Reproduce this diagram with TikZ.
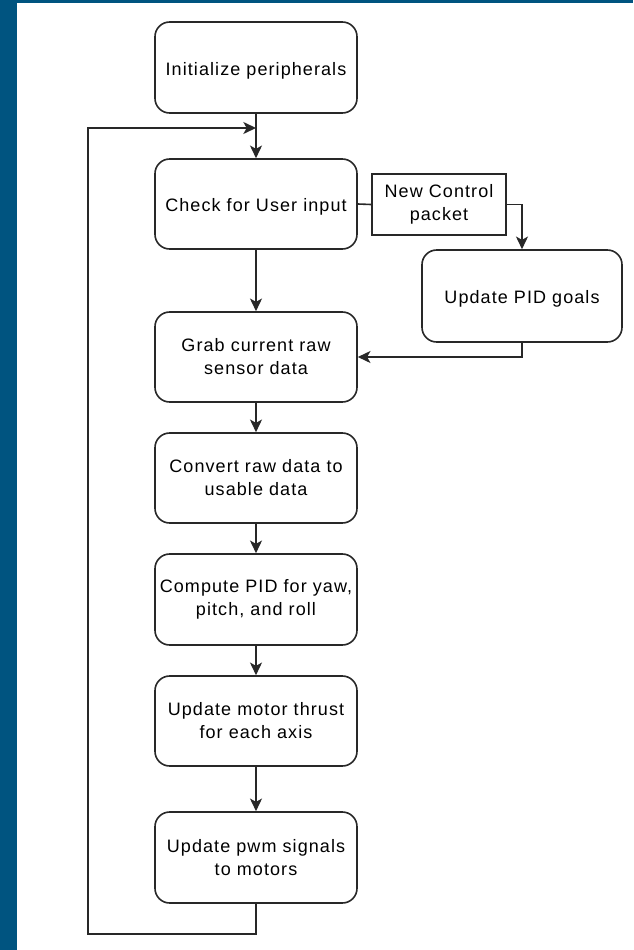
\documentclass[tikz,border=0pt]{standalone}
\usepackage{fontspec}
\setmainfont{Liberation Sans}[LetterSpace=6]
\usetikzlibrary{arrows.meta}
\definecolor{frameblue}{RGB}{0,84,128}
\definecolor{linegray}{RGB}{40,40,40}
% single-line labels sit a little lower than the geometric centre
\newcommand{\oneline}[1]{\raisebox{-2.25pt}[\height][\depth]{#1}}
\tikzset{
  stepbox/.style={draw=linegray, line width=1.2pt, rounded corners=11pt, fill=white,
    minimum width=151.5pt, minimum height=67.5pt, align=center, inner sep=2pt,
    font=\fontsize{13.5pt}{17.25pt}\selectfont},
  eventbox/.style={draw=linegray, line width=1.2pt, fill=white,
    minimum width=100.5pt, minimum height=45.75pt, align=center, inner sep=2pt,
    font=\fontsize{13.5pt}{17.25pt}\selectfont},
  flow/.style={draw=linegray, line width=1.2pt, -{Stealth[length=9.5pt,width=9pt,inset=2.5pt]}},
  link/.style={draw=linegray, line width=1.2pt},
}
\begin{document}
\begin{tikzpicture}[x=0.75pt,y=-0.75pt]
  % page and frame
  \useasboundingbox (0,0) rectangle (633,950);
  \fill[white] (0,0) rectangle (633,950);
  \fill[frameblue] (0,0) rectangle (17,950);
  \fill[frameblue] (0,0) rectangle (633,3);

  % main column
  \node[stepbox, minimum height=68.25pt] (init)    at (256,67.5)  {\oneline{Initialize peripherals}};
  \node[stepbox] (check)   at (256,204)   {\oneline{Check for User input}};
  \node[stepbox] (grab)    at (256,357)   {Grab current raw\\sensor data};
  \node[stepbox] (convert) at (256,478)   {Convert raw data to\\usable data};
  \node[stepbox, minimum height=68.25pt] (pid) at (256,599.5) {Compute PID for yaw,\\pitch, and roll};
  \node[stepbox] (thrust)  at (256,721)   {Update motor thrust\\for each axis};
  \node[stepbox, minimum height=68.25pt] (pwm) at (256,857.5) {Update pwm signals\\to motors};

  % side branch
  \node[eventbox] (packet) at (439,204.5) {New Control\\packet};
  \node[stepbox, minimum width=150pt, minimum height=69pt] (goals) at (522,296) {\oneline{Update PID goals}};

  % loop-back route
  \coordinate (loopbot) at (88,934);
  \coordinate (looptop) at (88,128);
  \coordinate (merge)   at (256,128);

  % connectors
  \draw[flow] (init) -- (check);
  \draw[flow] (check) -- (grab);
  \draw[flow] (grab) -- (convert);
  \draw[flow] (convert) -- (pid);
  \draw[flow] (pid) -- (thrust);
  \draw[flow] (thrust) -- (pwm);
  \draw[link] (check.east) -- (packet.west);
  \draw[flow] (packet.east) -| (goals.north);
  \draw[flow] (goals.south) |- (grab.east);
  \draw[flow] (pwm.south) |- (loopbot) -- (looptop) -- (merge);
\end{tikzpicture}
\end{document}
